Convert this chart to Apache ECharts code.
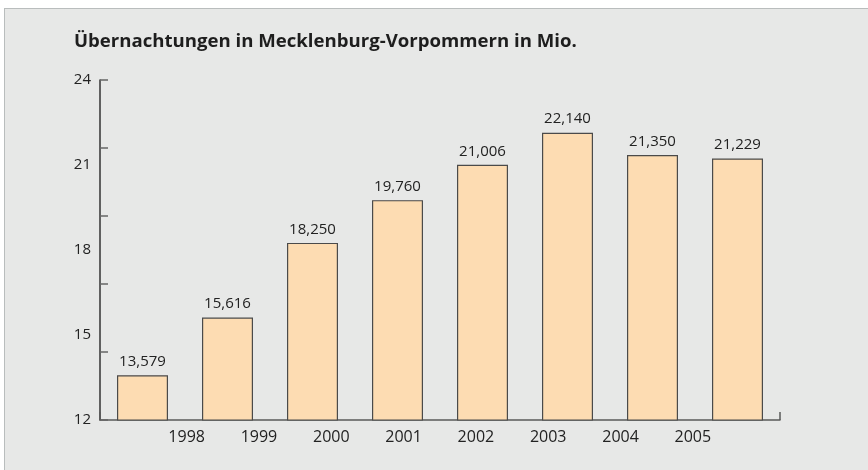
<!DOCTYPE html>
<html>
<head>
<meta charset="utf-8">
<script src="https://cdn.jsdelivr.net/npm/echarts@6/dist/echarts.min.js"></script>
<style>
  html, body { margin: 0; padding: 0; background: #ffffff; }
  #panel {
    position: absolute; left: 4px; top: 8px; right: -2px; bottom: -2px;
    background: #e7e8e7;
    border-left: 1px solid #b9bdbd;
    border-top: 1px solid #b9bdbd;
  }
  #chart { position: absolute; left: 0; top: 0; width: 868px; height: 470px; }
</style>
</head>
<body>
<div id="panel"></div>
<div id="chart"></div>
<script>
  // Übernachtungen in Mio.
  var years = ['1998', '1999', '2000', '2001', '2002', '2003', '2004', '2005']
  var nights = [13.579, 15.616, 18.25, 19.76, 21.006, 22.14, 21.35, 21.229]
  var yLabels = [12, 15, 18, 21, 24]
  var yTicks = [12, 14.4, 16.8, 19.2, 21.6, 24]

  var font = '"Open Sans", "DejaVu Sans", sans-serif'
  var chart = echarts.init(document.getElementById('chart'), null, { renderer: 'canvas' })

  chart.setOption({
    backgroundColor: 'transparent',
    animation: false,
    title: {
      text: 'Übernachtungen in Mecklenburg-Vorpommern in Mio.',
      left: 69,
      top: 27,
      textStyle: { fontFamily: font, fontSize: 18.6, fontWeight: 'bold', color: '#1e1e1e' }
    },
    grid: [
      { left: 100, right: 88, top: 80, bottom: 50 },
      // Jahreszahlen sitzen im Original etwas enger als die Balken
      { left: 150.5, right: 139, top: 80, bottom: 50 }
    ],
    xAxis: [{
      type: 'category',
      data: years,
      gridIndex: 0,
      axisLine: { lineStyle: { color: '#5a5a5a', width: 1.5 } },
      axisTick: {
        show: true,
        inside: true,
        length: 8,
        interval: function (index) { return index === 0 },
        lineStyle: { color: '#5a5a5a', width: 1.5 }
      },
      axisLabel: { show: false }
    },
    {
      type: 'category',
      data: years,
      gridIndex: 1,
      axisLine: { show: false },
      axisTick: { show: false },
      axisLabel: { margin: 9, fontFamily: font, fontSize: 16, color: '#222' }
    }],
    yAxis: [{
      type: 'value',
      gridIndex: 0,
      min: 12,
      max: 24,
      interval: 3,
      splitLine: { show: false },
      axisLine: { show: true, lineStyle: { color: '#333', width: 1.5 } },
      axisTick: {
        show: true,
        inside: true,
        length: 8,
        customValues: yTicks,
        lineStyle: { color: '#666', width: 1.5 }
      },
      axisLabel: {
        customValues: yLabels,
        margin: 9,
        fontFamily: font,
        fontSize: 15,
        color: '#222'
      }
    },
    {
      type: 'value',
      gridIndex: 1,
      show: false
    }],
    series: [{
      type: 'bar',
      xAxisIndex: 0,
      yAxisIndex: 0,
      data: nights,
      barWidth: '60%',
      itemStyle: { color: '#fddcb2', borderColor: '#4a4a4a', borderWidth: 1.2 },
      label: {
        show: true,
        position: 'top',
        distance: 6,
        fontFamily: font,
        fontSize: 15,
        color: '#222',
        formatter: function (p) { return p.value.toFixed(3).replace('.', ',') }
      }
    }]
  })
</script>
</body>
</html>
